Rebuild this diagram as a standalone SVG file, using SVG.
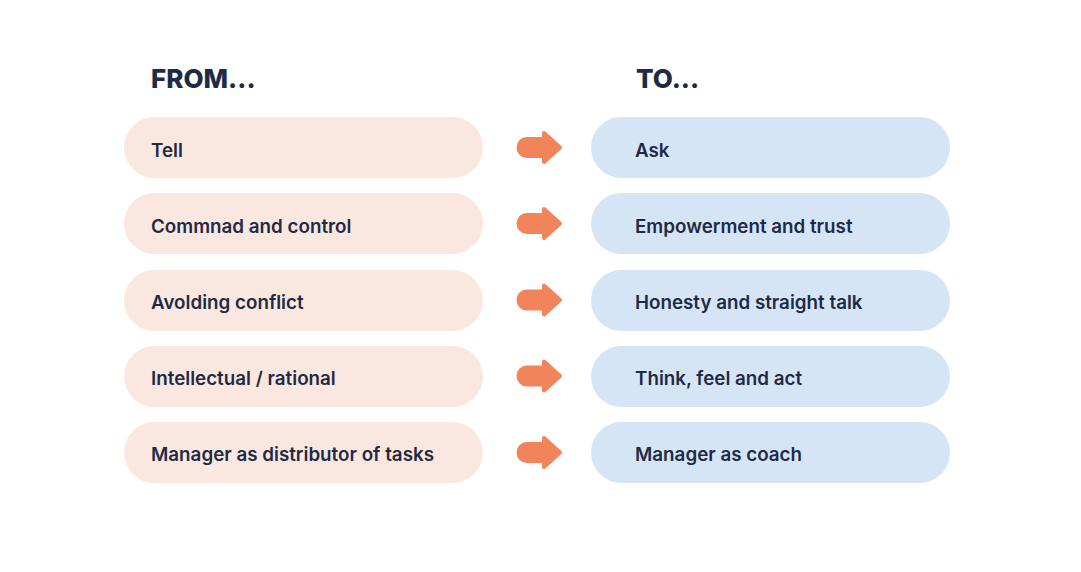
<svg xmlns="http://www.w3.org/2000/svg" width="1081" height="572" viewBox="0 0 1081 572">
<style>
.from{fill:#fae8e0}
.to{fill:#d5e5f5}
.lbl{font-family:Inter,"Open Sans",sans-serif;font-weight:600;font-size:18.8px;fill:#1f2b45}
.hd{font-family:Inter,"Open Sans",sans-serif;font-weight:800;font-size:26px;fill:#1f2b45}
.arr{fill:#f2845c;stroke:#f2845c;stroke-width:4;stroke-linejoin:round}
</style>
<rect width="1081" height="572" fill="#ffffff"/>
<g id="headings">
<text class="hd" x="151" y="88">FROM...</text>
<text class="hd" x="636" y="88">TO...</text>
</g>
<g id="from-1"><rect class="from" x="124" y="117" width="359" height="61" rx="30.5"/><text class="lbl" x="151" y="157">Tell</text></g>
<g id="from-2"><rect class="from" x="124" y="193" width="359" height="61" rx="30.5"/><text class="lbl" x="151" y="233">Commnad and control</text></g>
<g id="from-3"><rect class="from" x="124" y="270" width="359" height="61" rx="30.5"/><text class="lbl" x="151" y="309">Avolding conflict</text></g>
<g id="from-4"><rect class="from" x="124" y="346" width="359" height="61" rx="30.5"/><text class="lbl" x="151" y="385">Intellectual / rational</text></g>
<g id="from-5"><rect class="from" x="124" y="422" width="359" height="61" rx="30.5"/><text class="lbl" x="151" y="461">Manager as distributor of tasks</text></g>
<g id="to-1"><rect class="to" x="591" y="117" width="359" height="61" rx="30.5"/><text class="lbl" x="635" y="157">Ask</text></g>
<g id="to-2"><rect class="to" x="591" y="193" width="359" height="61" rx="30.5"/><text class="lbl" x="635" y="233">Empowerment and trust</text></g>
<g id="to-3"><rect class="to" x="591" y="270" width="359" height="61" rx="30.5"/><text class="lbl" x="635" y="309">Honesty and straight talk</text></g>
<g id="to-4"><rect class="to" x="591" y="346" width="359" height="61" rx="30.5"/><text class="lbl" x="635" y="385">Think, feel and act</text></g>
<g id="to-5"><rect class="to" x="591" y="422" width="359" height="61" rx="30.5"/><text class="lbl" x="635" y="461">Manager as coach</text></g>
<g id="connectors">
<path class="arr" d="M527,139 H544 V133 L560,147.5 L544,162 V156 H527 A8.5,8.5 0 0 1 527,139 Z"/>
<path class="arr" transform="translate(0,76)" d="M527,139 H544 V133 L560,147.5 L544,162 V156 H527 A8.5,8.5 0 0 1 527,139 Z"/>
<path class="arr" transform="translate(0,152.5)" d="M527,139 H544 V133 L560,147.5 L544,162 V156 H527 A8.5,8.5 0 0 1 527,139 Z"/>
<path class="arr" transform="translate(0,228.5)" d="M527,139 H544 V133 L560,147.5 L544,162 V156 H527 A8.5,8.5 0 0 1 527,139 Z"/>
<path class="arr" transform="translate(0,305)" d="M527,139 H544 V133 L560,147.5 L544,162 V156 H527 A8.5,8.5 0 0 1 527,139 Z"/>
</g>
</svg>
